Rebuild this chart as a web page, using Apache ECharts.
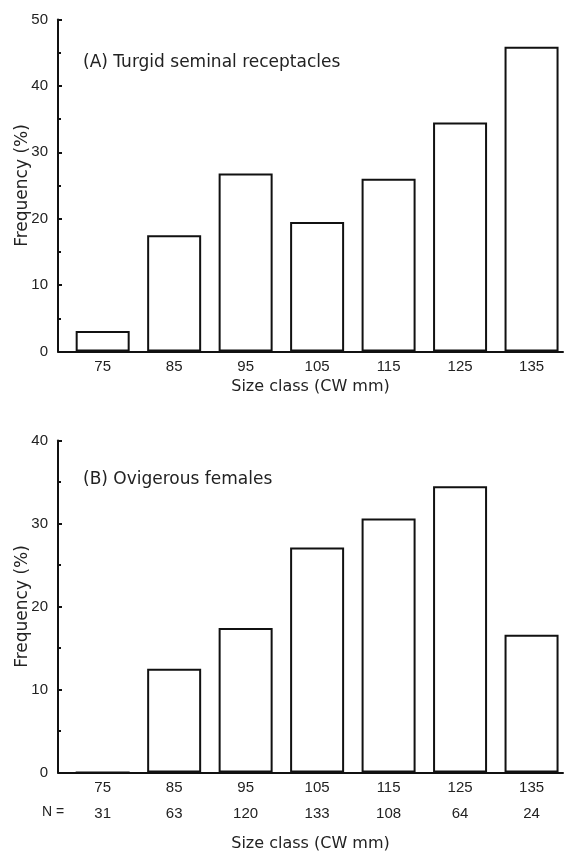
<!DOCTYPE html>
<html>
<head>
<meta charset="utf-8">
<script src="https://cdn.jsdelivr.net/npm/echarts@6/dist/echarts.min.js"></script>
<style>
html,body{margin:0;padding:0;background:#fff;}
#chart{width:567px;height:854px;}
</style>
</head>
<body>
<div id="chart"></div>
<script>
var sizeClasses = [75, 85, 95, 105, 115, 125, 135];
var turgidFreq = [3.1, 17.5, 26.8, 19.5, 26.0, 34.5, 45.9];
var ovigerousFreq = [0, 12.5, 17.4, 27.1, 30.6, 34.5, 16.6];
var ovigerousN = [31, 63, 120, 133, 108, 64, 24];
var yTicksA = [0, 10, 20, 30, 40, 50];
var yTicksB = [0, 10, 20, 30, 40];

var FONT = "'Liberation Sans', Arial, sans-serif";
var WIDE = "'DejaVu Sans', 'Liberation Sans', sans-serif";
var INK = '#111';
var TXT = '#222';

function pairs(xs, ys) { return xs.map(function (x, i) { return [x, ys[i]]; }); }

function xAxisCfg(gridIndex, withN) {
  return {
    type: 'value', gridIndex: gridIndex, min: 68.75, max: 139.4,
    name: 'Size class (CW mm)', nameLocation: 'middle',
    nameGap: withN ? 63 : 27, nameMoveOverlap: false,
    nameTextStyle: { fontFamily: WIDE, fontSize: 16, color: TXT },
    axisLine: { show: true, onZero: false, lineStyle: { color: INK, width: 2 } },
    axisTick: { show: false },
    splitLine: { show: false },
    axisLabel: {
      customValues: sizeClasses,
      fontFamily: FONT, fontSize: 15, color: TXT, margin: 2, lineHeight: 26,
      formatter: function (v) {
        if (!withN) return String(v);
        var i = sizeClasses.indexOf(v);
        return v + '\n' + ovigerousN[i];
      }
    }
  };
}

function yAxisCfg(gridIndex, ticks) {
  return {
    type: 'value', gridIndex: gridIndex, min: ticks[0], max: ticks[ticks.length - 1], interval: 10,
    name: 'Frequency (%)', nameLocation: 'middle', nameGap: 27, nameMoveOverlap: false,
    nameTextStyle: { fontFamily: WIDE, fontSize: 17, color: TXT },
    axisLine: { show: true, lineStyle: { color: INK, width: 2 } },
    axisTick: { show: true, inside: true, length: 4, lineStyle: { color: INK, width: 2 } },
    minorTick: { show: true, splitNumber: 2, length: 3, lineStyle: { color: INK, width: 2 } },
    splitLine: { show: false },
    axisLabel: { fontFamily: FONT, fontSize: 15, color: TXT, margin: 10 }
  };
}

function barSeries(idx, ys) {
  return {
    type: 'bar', xAxisIndex: idx, yAxisIndex: idx,
    data: pairs(sizeClasses, ys), barWidth: 54,
    itemStyle: { color: '#fff', borderColor: INK, borderWidth: 2 },
    silent: true
  };
}

var chart = echarts.init(document.getElementById('chart'), null, { renderer: 'canvas' });
chart.setOption({
  animation: false,
  backgroundColor: '#fff',
  title: [
    { text: '(A) Turgid seminal receptacles', left: 78, top: 49,
      textStyle: { fontFamily: WIDE, fontSize: 17, fontWeight: 'normal', color: TXT } },
    { text: '(B) Ovigerous females', left: 78, top: 466,
      textStyle: { fontFamily: WIDE, fontSize: 17, fontWeight: 'normal', color: TXT } }
  ],
  grid: [
    { left: 58, top: 19.5, width: 505, height: 332 },
    { left: 58, top: 440.5, width: 505, height: 332 }
  ],
  xAxis: [xAxisCfg(0, false), xAxisCfg(1, true)],
  yAxis: [yAxisCfg(0, yTicksA), yAxisCfg(1, yTicksB)],
  graphic: [
    { type: 'text', left: 42, top: 805,
      style: { text: 'N =', fontFamily: FONT, fontSize: 14, fill: TXT } }
  ],
  series: [barSeries(0, turgidFreq), barSeries(1, ovigerousFreq)]
});
</script>
</body>
</html>
